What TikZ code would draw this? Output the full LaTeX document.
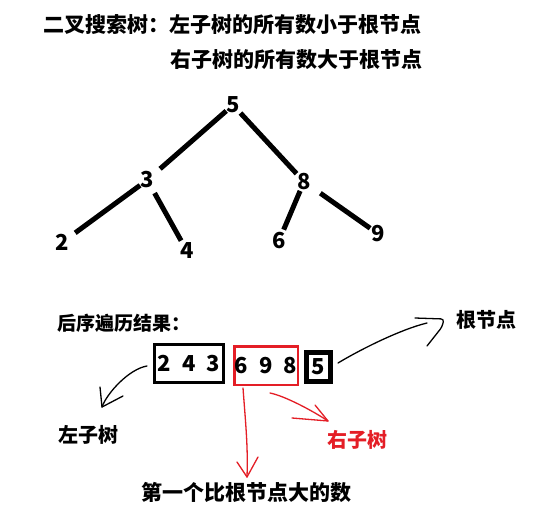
\documentclass[tikz,border=0pt]{standalone}
\usepackage{fontspec}
\setmainfont{Noto Sans CJK SC}
\usetikzlibrary{calc}
\definecolor{penred}{RGB}{228,30,38}
\begin{document}
\begin{tikzpicture}[x=1pt,y=-1pt,
  title/.style={font=\fontsize{21}{25}\selectfont\bfseries, inner sep=0pt, anchor=west},
  lbl/.style={font=\fontsize{20}{24}\selectfont\bfseries, inner sep=0pt},
  num/.style={font=\fontsize{22}{26}\selectfont\bfseries, inner sep=0pt},
  edge/.style={line width=5pt},
  numbox/.style={draw, font=\fontsize{22}{26}\selectfont\bfseries, inner sep=0pt},
  pen/.style={line width=1.3pt, line cap=round, line join=round},
]
\useasboundingbox[fill=white] (0,0) rectangle (548,511);

% titles
\node[title] (t1) at (43,25) {二叉搜索树：左子树的所有数小于根节点};
\node[title] (t2) at (170,60) {右子树的所有数大于根节点};

% tree
\node[num] (n5) at (233,105) {5};
\node[num] (n3) at (147.3,180) {3};
\node[num] (n8) at (304,181.7) {8};
\node[num] (n2) at (62.3,242.3) {2};
\node[num] (n4) at (186.7,250.7) {4};
\node[num] (n6) at (279,240.7) {6};
\node[num] (n9) at (378.3,234) {9};

\draw[edge, shorten <=9pt, shorten >=17pt] (n5.center) -- (n3.center);
\draw[edge, shorten <=11pt, shorten >=11pt] (n5.center) -- (n8.center);
\draw[edge, shorten <=9pt, shorten >=16pt] (n3.center) -- (n2.center);
\draw[edge, shorten <=15pt, shorten >=11.5pt] (n3.center) -- (n4.center);
\draw[edge, shorten <=10pt, shorten >=12pt] (n8.center) -- (n6.center);
\draw[edge, shorten <=20pt, shorten >=10pt] (n8.center) -- (n9.center);

% postorder
\node[lbl, anchor=west, font=\fontsize{19}{23}\selectfont\bfseries] (post) at (57,323) {后序遍历结果：};
\node[numbox, line width=3pt, minimum width=69pt, minimum height=38pt] (b1) at (189,363.5) {2\hspace{11pt}4\hspace{11pt}3};
\node[numbox, draw=penred, line width=2.5pt, minimum width=63.5pt, minimum height=38.5pt] (b2) at (266,365.5) {6\hspace{11pt}9\hspace{11pt}8};
\node[numbox, line width=5pt, minimum width=24pt, minimum height=29pt] (b3) at (318.5,367) {5};

\node[lbl] (root) at (486,320) {根节点};
\node[lbl] (left) at (88,435) {左子树};
\node[lbl, text=penred] (right) at (357,440) {右子树};
\node[lbl, font=\fontsize{21}{25}\selectfont\bfseries] (first) at (246,492) {第一个比根节点大的数};

% root arrow
\coordinate (rtip) at (427,323);
\draw[pen] ($(b3.east)+(5,-4)$) .. controls +(25,-15) and +(-25,6) .. (rtip);
\draw[pen, rounded corners=3pt] ($(rtip)+(-12,-5)$) -- ($(rtip)+(17,-4)$) -- ($(rtip)+(15,4)$) -- ($(rtip)+(0,23)$);

% left subtree arrow
\coordinate (ltip) at (102,407);
\draw[pen] ($(b1.west)+(-6,2.5)$) .. controls +(-18,3) and +(5,-14) .. (ltip);
\draw[pen] ($(ltip)+(-2,-20)$) -- (ltip) -- ($(ltip)+(21,-11)$);

% first-greater arrow
\coordinate (ftip) at (247,477);
\draw[pen, penred] ($(b2.south)+(-23,2)$) .. controls +(3,40) and +(1,-30) .. (ftip);
\draw[pen, penred] ($(ftip)+(-10,-15)$) -- (ftip) -- ($(ftip)+(11,-20)$);

% right subtree arrow
\coordinate (rstip) at (328,421);
\draw[pen, penred] ($(b2.south)+(4,7)$) .. controls +(15,3) and +(-15,-10) .. (rstip);
\draw[pen, penred] ($(rstip)+(-36,-3)$) -- (rstip) -- ($(rstip)+(-13,-16)$);
\end{tikzpicture}
\end{document}
